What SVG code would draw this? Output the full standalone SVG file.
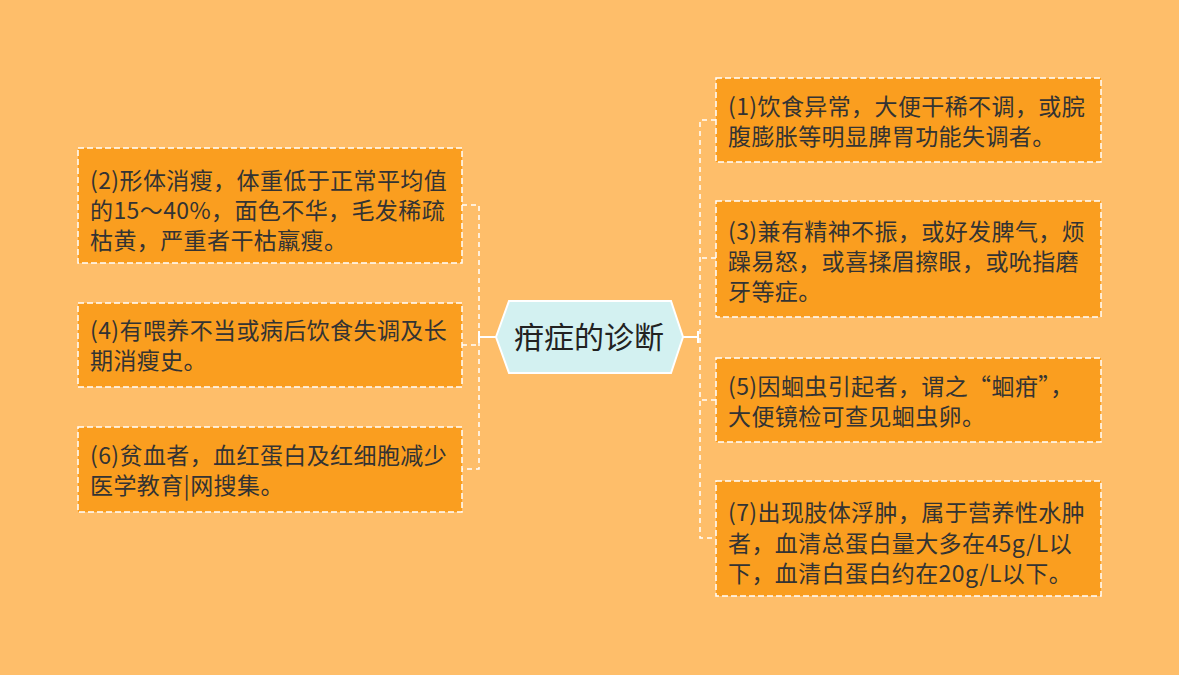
<svg xmlns="http://www.w3.org/2000/svg" width="1179" height="675" viewBox="0 0 1179 675">
<style>
.box{fill:#FA9E1F;stroke:#FFFFFF;stroke-width:1.5;stroke-dasharray:6 3}
.t{font-family:"Noto Sans CJK SC","Noto Sans",sans-serif;font-size:23px;letter-spacing:0.4px;fill:#333333}
.ct{font-family:"Noto Sans CJK SC","Noto Sans",sans-serif;font-size:30px;fill:#222222}
.dash{fill:none;stroke:#FFFFFF;stroke-width:1.5;stroke-dasharray:5 4}
.solid{fill:none;stroke:#FFFFFF;stroke-width:2}
</style>
<rect width="1179" height="675" fill="#FEBE6A"/>
<g id="connectors">
<path class="solid" d="M496 337 H479 M479 331 V343"/>
<path class="dash" d="M462 205 H479 V469 H462 M462 345 H479"/>
<path class="solid" d="M683 337 H698 M698 331 V343"/>
<path class="dash" d="M716 120 H700 V538 H716 M716 258 H700 M716 400 H700"/>
</g>
<g id="center">
<polygon points="496,337 509,301 671,301 683,337 671,373 509,373" fill="#D3F1F1" stroke="#FFFFFF" stroke-width="2"/>
<text class="ct" x="589" y="348" text-anchor="middle">疳症的诊断</text>
</g>
<g id="n2">
<rect class="box" x="78" y="148" width="384" height="115"/>
<text class="t"><tspan x="90" y="189">(2)形体消瘦，体重低于正常平均值</tspan><tspan x="90" y="219">的15～40%，面色不华，毛发稀疏</tspan><tspan x="90" y="249">枯黄，严重者干枯羸瘦。</tspan></text>
</g>
<g id="n4">
<rect class="box" x="78" y="303" width="384" height="84"/>
<text class="t"><tspan x="90" y="339">(4)有喂养不当或病后饮食失调及长</tspan><tspan x="90" y="369">期消瘦史。</tspan></text>
</g>
<g id="n6">
<rect class="box" x="78" y="427" width="384" height="85"/>
<text class="t"><tspan x="90" y="464">(6)贫血者，血红蛋白及红细胞减少</tspan><tspan x="90" y="494">医学教育|网搜集。</tspan></text>
</g>
<g id="n1">
<rect class="box" x="716" y="78" width="385" height="84"/>
<text class="t"><tspan x="728" y="115">(1)饮食异常，大便干稀不调，或脘</tspan><tspan x="728" y="145">腹膨胀等明显脾胃功能失调者。</tspan></text>
</g>
<g id="n3">
<rect class="box" x="716" y="201" width="385" height="116"/>
<text class="t"><tspan x="728" y="240">(3)兼有精神不振，或好发脾气，烦</tspan><tspan x="728" y="270">躁易怒，或喜揉眉擦眼，或吮指磨</tspan><tspan x="728" y="300">牙等症。</tspan></text>
</g>
<g id="n5">
<rect class="box" x="716" y="358" width="385" height="84"/>
<text class="t"><tspan x="728" y="395">(5)因蛔虫引起者，谓之“蛔疳”，</tspan><tspan x="728" y="425">大便镜检可查见蛔虫卵。</tspan></text>
</g>
<g id="n7">
<rect class="box" x="716" y="481" width="385" height="115"/>
<text class="t"><tspan x="728" y="521">(7)出现肢体浮肿，属于营养性水肿</tspan><tspan x="728" y="552">者，血清总蛋白量大多在45g/L以</tspan><tspan x="728" y="582">下，血清白蛋白约在20g/L以下。</tspan></text>
</g>
</svg>
